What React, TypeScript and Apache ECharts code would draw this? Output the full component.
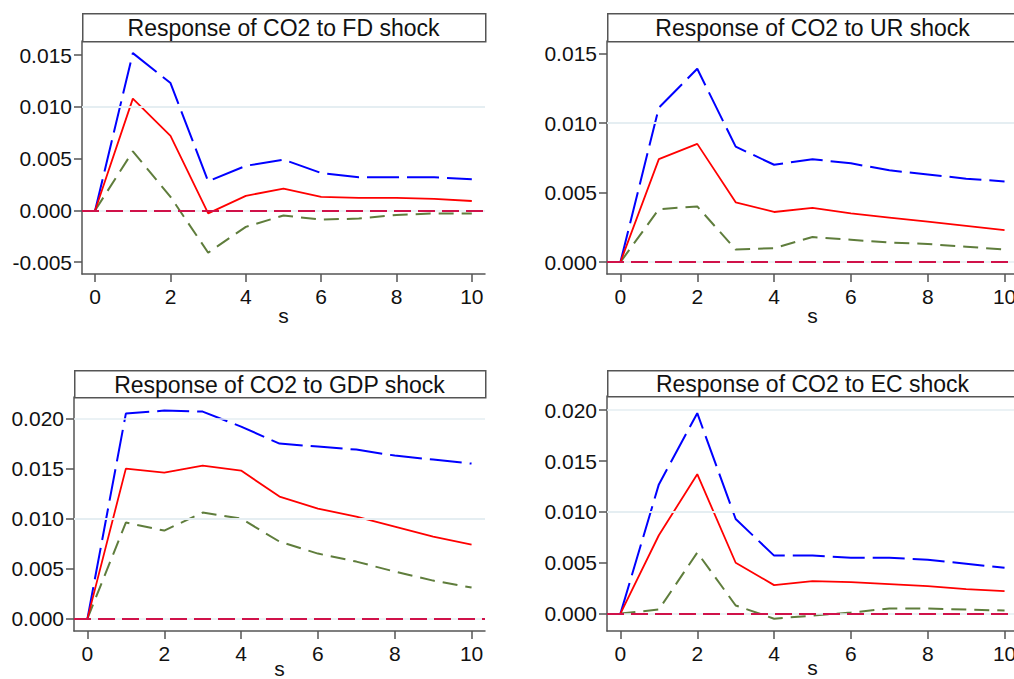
import React, { useEffect, useRef } from "react";
import * as echarts from "echarts";

const steps = [0, 1, 2, 3, 4, 5, 6, 7, 8, 9, 10];
const xTicks = [0, 2, 4, 6, 8, 10];

const titles = [
  "Response of CO2 to FD shock",
  "Response of CO2 to UR shock",
  "Response of CO2 to GDP shock",
  "Response of CO2 to EC shock",
];

const fdResp = [0, 0.0108, 0.0072, -0.0003, 0.0014, 0.0021, 0.0013, 0.0012, 0.0012, 0.0011, 0.0009];
const fdUpper = [0, 0.0152, 0.0123, 0.0028, 0.0043, 0.0049, 0.0036, 0.0032, 0.0032, 0.0032, 0.003];
const fdLower = [0, 0.0057, 0.0013, -0.0041, -0.0016, -0.0005, -0.0009, -0.0008, -0.00045, -0.0003, -0.0003];

const urResp = [0, 0.0074, 0.0085, 0.0043, 0.0036, 0.0039, 0.0035, 0.0032, 0.0029, 0.0026, 0.0023];
const urUpper = [0, 0.0111, 0.0139, 0.0083, 0.007, 0.0074, 0.0071, 0.0066, 0.0063, 0.006, 0.0058];
const urLower = [0, 0.0038, 0.004, 0.0009, 0.001, 0.0018, 0.0016, 0.0014, 0.0013, 0.0011, 0.0009];

const gdpResp = [0, 0.015, 0.0146, 0.0153, 0.0148, 0.0122, 0.011, 0.0102, 0.0092, 0.0082, 0.0074];
const gdpUpper = [0, 0.0205, 0.0208, 0.0207, 0.0192, 0.0175, 0.0172, 0.0169, 0.0163, 0.0159, 0.0155];
const gdpLower = [0, 0.0096, 0.0088, 0.0106, 0.01, 0.0077, 0.0065, 0.0057, 0.0047, 0.0038, 0.0031];

const ecResp = [0, 0.0077, 0.0137, 0.005, 0.0028, 0.0032, 0.0031, 0.0029, 0.0027, 0.0024, 0.0022];
const ecUpper = [0, 0.0127, 0.0197, 0.0093, 0.0057, 0.0057, 0.0055, 0.0055, 0.0053, 0.0049, 0.0045];
const ecLower = [0, 0.0004, 0.006, 0.0008, -0.0005, -0.0002, 0.0001, 0.0005, 0.0005, 0.0004, 0.0003];

const fdYTicks = [-0.005, 0, 0.005, 0.01, 0.015];
const urYTicks = [0, 0.005, 0.01, 0.015];
const gdpYTicks = [0, 0.005, 0.01, 0.015, 0.02];
const ecYTicks = [0, 0.005, 0.01, 0.015, 0.02];

const panels = [
  { resp: fdResp, upper: fdUpper, lower: fdLower, yTicks: fdYTicks, yMin: -0.00616, yMax: 0.01637 },
  { resp: urResp, upper: urUpper, lower: urLower, yTicks: urYTicks, yMin: -0.00086, yMax: 0.0159 },
  { resp: gdpResp, upper: gdpUpper, lower: gdpLower, yTicks: gdpYTicks, yMin: -0.00124, yMax: 0.02216 },
  { resp: ecResp, upper: ecUpper, lower: ecLower, yTicks: ecYTicks, yMin: -0.00171, yMax: 0.02139 },
];

const layout = [
  { left: 82, top: 41, width: 403, height: 233, titleTop: 13, nameGap: 31 },
  { left: 607, top: 41, width: 411, height: 233, titleTop: 13, nameGap: 31 },
  { left: 74, top: 397, width: 411, height: 234, titleTop: 370, nameGap: 27 },
  { left: 607, top: 396, width: 411, height: 235, titleTop: 370, nameGap: 26 },
];

const FONT = "'Liberation Sans', Arial, sans-serif";
const AXIS_COLOR = "#555555";
const TEXT_COLOR = "#111111";

export default function App() {
  const ref = useRef<HTMLDivElement>(null);

  useEffect(() => {
    if (!ref.current) return;
    const chart = echarts.init(ref.current, null, { renderer: "svg" });

    const grids: any[] = [];
    const xAxes: any[] = [];
    const yAxes: any[] = [];
    const series: any[] = [];
    const graphics: any[] = [];

    panels.forEach((p, i) => {
      const l = layout[i];
      grids.push({
        left: l.left,
        top: l.top,
        width: l.width,
        height: l.height,
        containLabel: false,
        outerBoundsMode: "none",
      });
      xAxes.push({
        type: "value",
        gridIndex: i,
        min: -0.35,
        max: 10.35,
        name: "s",
        nameLocation: "middle",
        nameGap: l.nameGap,
        nameMoveOverlap: false,
        nameTextStyle: { fontFamily: FONT, fontSize: 21, color: TEXT_COLOR },
        axisLine: { show: true, onZero: false, lineStyle: { color: AXIS_COLOR, width: 1.5 } },
        axisTick: { show: true, length: 8, customValues: xTicks, lineStyle: { color: AXIS_COLOR, width: 1.5 } },
        axisLabel: {
          customValues: xTicks,
          margin: 12,
          fontFamily: FONT,
          fontSize: 21,
          color: TEXT_COLOR,
        },
        splitLine: { show: false },
      });
      yAxes.push({
        type: "value",
        gridIndex: i,
        min: p.yMin,
        max: p.yMax,
        axisLine: { show: true, onZero: false, lineStyle: { color: AXIS_COLOR, width: 1.5 } },
        axisTick: { show: true, length: 8, customValues: p.yTicks, lineStyle: { color: AXIS_COLOR, width: 1.5 } },
        axisLabel: {
          customValues: p.yTicks,
          margin: 10,
          fontFamily: FONT,
          fontSize: 21,
          color: TEXT_COLOR,
          formatter: (v: number) => v.toFixed(3),
        },
        splitLine: { show: false },
      });

      series.push({
        type: "line",
        xAxisIndex: i,
        yAxisIndex: i,
        data: [],
        silent: true,
        markLine: {
          silent: true,
          symbol: "none",
          label: { show: false },
          lineStyle: { color: "#e4eef2", width: 1.5, type: "solid" },
          data: p.yTicks.map((v) => ({ yAxis: v })),
        },
        z: 1,
      });

      series.push({
        type: "line",
        xAxisIndex: i,
        yAxisIndex: i,
        data: steps.map((s, k) => [s, p.lower[k]]),
        symbol: "none",
        lineStyle: { color: "#5f7d3c", width: 2, type: [15, 8] },
        z: 3,
      });
      series.push({
        type: "line",
        xAxisIndex: i,
        yAxisIndex: i,
        data: steps.map((s, k) => [s, p.upper[k]]),
        symbol: "none",
        lineStyle: { color: "#0000ff", width: 2, type: [32, 8] },
        z: 3,
      });
      series.push({
        type: "line",
        xAxisIndex: i,
        yAxisIndex: i,
        data: steps.map((s, k) => [s, p.resp[k]]),
        symbol: "none",
        lineStyle: { color: "#ff0000", width: 1.8, type: "solid" },
        z: 4,
        markLine: {
          silent: true,
          symbol: "none",
          label: { show: false },
          lineStyle: { color: "#d0124a", width: 2, type: [17, 7] },
          data: [{ yAxis: 0 }],
        },
      });

      const titleW = i === 0 ? 403 : 411;
      graphics.push({
        type: "rect",
        left: l.left,
        top: l.titleTop,
        shape: { x: 0, y: 0, width: titleW, height: l.top - l.titleTop },
        style: { fill: "#ffffff", stroke: AXIS_COLOR, lineWidth: 1.5 },
        z: 10,
      });
      graphics.push({
        type: "text",
        x: l.left + titleW / 2,
        y: l.titleTop + (l.top - l.titleTop) / 2 + 1,
        style: {
          text: titles[i],
          fontFamily: FONT,
          fontSize: 23,
          fill: TEXT_COLOR,
          align: "center",
          verticalAlign: "middle",
        },
        z: 11,
      });
    });

    chart.setOption({
      animation: false,
      backgroundColor: "#ffffff",
      grid: grids,
      xAxis: xAxes,
      yAxis: yAxes,
      series,
      graphic: graphics,
    });

    return () => chart.dispose();
  }, []);

  return (
    <div
      ref={ref}
      style={{ position: "absolute", left: 0, top: 0, width: 1014, height: 679 }}
    />
  );
}
